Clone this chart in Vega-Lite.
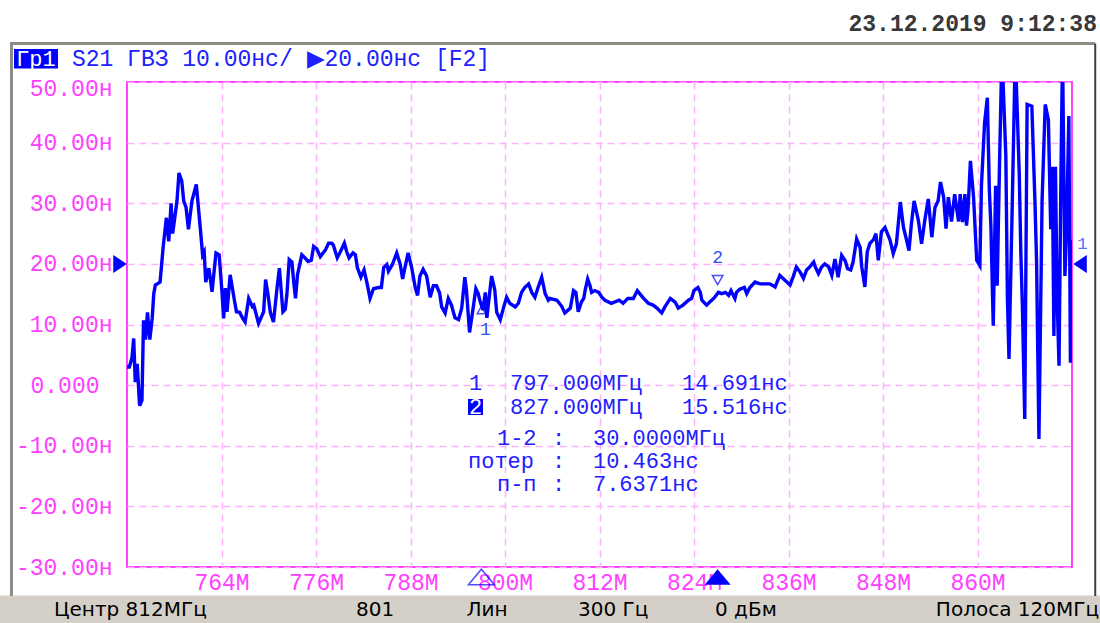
{
  "$schema": "https://vega.github.io/schema/vega-lite/v6.json",
  "width": 945,
  "height": 485,
  "autosize": {"type": "none"},
  "padding": {"left": 127, "top": 82, "right": 28, "bottom": 56},
  "background": "white",
  "config": {
    "view": {"stroke": "#ff40ff", "strokeWidth": 2},
    "font": "Liberation Mono"
  },
  "datasets": {
    "trace": [
      {"f":752.0,"v":3.0},{"f":752.3,"v":3.0},{"f":752.63,"v":4.5},{"f":752.85,"v":7.7},{"f":753.05,"v":0.5},{"f":753.3,"v":3.5},{"f":753.6,"v":-3.4},{"f":753.9,"v":-2.5},{"f":754.1,"v":10.7},{"f":754.35,"v":7.5},{"f":754.6,"v":12},{"f":754.9,"v":7.5},{"f":755.2,"v":11},{"f":755.4,"v":15.1},{"f":755.6,"v":16.5},{"f":756.2,"v":17},{"f":756.6,"v":22.9},{"f":757.0,"v":27.6},{"f":757.3,"v":23.7},{"f":757.6,"v":30},{"f":757.8,"v":25},{"f":758.35,"v":30.4},{"f":758.6,"v":35},{"f":758.95,"v":33.7},{"f":759.2,"v":30.4},{"f":759.5,"v":29.3},{"f":759.8,"v":25.7},{"f":760.25,"v":30.4},{"f":760.8,"v":33.1},{"f":761.3,"v":26},{"f":761.6,"v":21.5},{"f":761.8,"v":22},{"f":762.0,"v":17},{"f":762.4,"v":19.3},{"f":762.8,"v":15.4},{"f":763.3,"v":21.8},{"f":763.7,"v":21.5},{"f":764.06,"v":15.4},{"f":764.27,"v":11},{"f":764.5,"v":16},{"f":764.7,"v":12.1},{"f":765.1,"v":18.2},{"f":765.6,"v":14.3},{"f":765.9,"v":12.1},{"f":766.3,"v":12},{"f":766.7,"v":11},{"f":767.0,"v":10.4},{"f":767.45,"v":14.3},{"f":767.9,"v":13},{"f":768.1,"v":13.2},{"f":768.7,"v":10.2},{"f":769.35,"v":12.1},{"f":769.6,"v":17.4},{"f":769.9,"v":15},{"f":770.2,"v":12},{"f":770.6,"v":10.4},{"f":771.05,"v":16},{"f":771.35,"v":19.3},{"f":771.8,"v":12.1},{"f":772.1,"v":12.5},{"f":772.3,"v":14.9},{"f":772.6,"v":20.7},{"f":772.95,"v":20.3},{"f":773.16,"v":17.1},{"f":773.4,"v":14.3},{"f":773.65,"v":18.2},{"f":774.2,"v":21.5},{"f":774.6,"v":21},{"f":775.0,"v":20.4},{"f":775.4,"v":20.6},{"f":775.7,"v":22.9},{"f":776.1,"v":22.5},{"f":776.55,"v":21.2},{"f":777.2,"v":22.3},{"f":777.6,"v":23.4},{"f":778.0,"v":23.4},
      {"f":778.2,"v":23.1},{"f":778.7,"v":21},{"f":779.1,"v":22},{"f":779.6,"v":23.4},{"f":779.9,"v":22},{"f":780.2,"v":21},{"f":780.7,"v":21.8},{"f":781.0,"v":21.5},{"f":781.25,"v":19.4},{"f":781.7,"v":17.8},{"f":782.1,"v":19},{"f":782.5,"v":16.7},{"f":782.86,"v":14.3},{"f":783.3,"v":15.9},{"f":783.9,"v":16.1},{"f":784.3,"v":16.1},{"f":784.6,"v":19.4},{"f":785.0,"v":19.9},{"f":785.2,"v":18.8},{"f":785.7,"v":19.9},{"f":786.25,"v":21.8},{"f":786.7,"v":19.9},{"f":787.0,"v":17.5},{"f":787.3,"v":19.4},{"f":787.7,"v":21.8},{"f":788.15,"v":19.4},{"f":788.6,"v":16.1},{"f":788.9,"v":14.8},{"f":789.2,"v":18},{"f":789.6,"v":19.1},{"f":790.05,"v":18},{"f":790.5,"v":14.5},{"f":790.9,"v":16.4},{"f":791.3,"v":16.4},{"f":791.7,"v":15.2},{"f":791.96,"v":12.9},{"f":792.4,"v":11.9},{"f":792.8,"v":14.3},{"f":793.2,"v":13.2},{"f":793.65,"v":11.1},{"f":794.1,"v":10.8},{"f":794.5,"v":12.7},{"f":794.9,"v":17.8},{"f":795.1,"v":15.7},{"f":795.5,"v":8.7},{"f":795.8,"v":11.3},{"f":796.3,"v":15.9},{"f":796.6,"v":15.1},{"f":796.8,"v":14},{"f":797.2,"v":12.4},{"f":797.5,"v":15.3},{"f":797.7,"v":11.1},{"f":797.9,"v":13.5},{"f":798.3,"v":18.0},{"f":798.7,"v":15.7},{"f":798.95,"v":12},{"f":799.4,"v":10.8},{"f":799.8,"v":12.7},{"f":800.2,"v":14.5},{"f":800.6,"v":13.5},{"f":801.3,"v":12.9},{"f":801.7,"v":13.5},{"f":802.1,"v":15.3},{"f":802.5,"v":16.1},{"f":803.0,"v":16.7},{"f":803.4,"v":15.3},{"f":803.8,"v":14.5},{"f":804.2,"v":16.1},{"f":804.66,"v":17.8},{"f":805.1,"v":15.1},{"f":805.5,"v":14.0},
      {"f":805.7,"v":14.3},{"f":806.6,"v":14},{"f":807.2,"v":13},{"f":807.6,"v":11.9},{"f":808.3,"v":12.7},{"f":808.7,"v":15.6},{"f":809.0,"v":15.3},{"f":809.3,"v":12.1},{"f":809.7,"v":13.7},{"f":810.0,"v":14.3},{"f":810.2,"v":15.8},{"f":810.5,"v":17.5},{"f":810.8,"v":16.4},{"f":811.0,"v":15.3},{"f":811.4,"v":15.6},{"f":811.9,"v":15.3},{"f":812.3,"v":14.5},{"f":812.7,"v":14},{"f":813.5,"v":13.5},{"f":814.5,"v":14},{"f":815.0,"v":13.5},{"f":815.6,"v":14.3},{"f":816.3,"v":14.3},{"f":816.8,"v":15.6},{"f":817.1,"v":15.1},{"f":817.6,"v":14.3},{"f":818.2,"v":13.5},{"f":818.8,"v":13.2},{"f":819.3,"v":12.7},{"f":819.9,"v":11.9},{"f":820.3,"v":12.9},{"f":821.0,"v":14.3},{"f":821.6,"v":13.7},{"f":822.0,"v":12.7},{"f":822.6,"v":13.2},{"f":823.3,"v":14},{"f":823.7,"v":14.3},{"f":824.0,"v":15.6},{"f":824.5,"v":16.1},{"f":824.8,"v":15.3},{"f":825.0,"v":14},{"f":825.6,"v":13.2},{"f":826.0,"v":13.7},{"f":826.5,"v":14.3},{"f":827.1,"v":15.3},{"f":827.5,"v":15.1},{"f":828.0,"v":15.3},{"f":828.4,"v":14.8},{"f":828.7,"v":15.6},{"f":829.0,"v":14.8},{"f":829.2,"v":14.3},{"f":829.4,"v":15.3},{"f":829.8,"v":15.8},{"f":830.4,"v":16.1},{"f":830.7,"v":15.1},{"f":831.1,"v":16.1},{"f":831.75,"v":17},
      {"f":832.4,"v":16.7},{"f":833.0,"v":16.7},{"f":833.65,"v":16.7},{"f":834.3,"v":16.2},{"f":834.9,"v":18.1},{"f":835.55,"v":17.3},{"f":836.2,"v":16.5},{"f":836.6,"v":17.9},{"f":837.0,"v":19.5},{"f":837.5,"v":18.6},{"f":837.9,"v":17.6},{"f":838.3,"v":19},{"f":838.7,"v":19.5},{"f":839.2,"v":20.3},{"f":839.4,"v":19.5},{"f":839.8,"v":18.4},{"f":840.2,"v":19.5},{"f":840.6,"v":20},{"f":841.1,"v":19.5},{"f":841.5,"v":18.1},{"f":841.9,"v":20.8},{"f":842.3,"v":17.8},{"f":842.75,"v":21.4},{"f":843.2,"v":20.5},{"f":843.5,"v":19.2},{"f":843.9,"v":19},{"f":844.2,"v":20.3},{"f":844.65,"v":24.1},{"f":845.1,"v":22.7},{"f":845.3,"v":19.5},{"f":845.7,"v":16.2},{"f":846.0,"v":22},{"f":846.35,"v":23.4},{"f":846.8,"v":24},{"f":847.1,"v":25},{"f":847.4,"v":20.6},{"f":847.8,"v":25.3},{"f":848.25,"v":26},{"f":848.9,"v":23.9},{"f":849.3,"v":21.7},{"f":849.7,"v":23.3},{"f":850.2,"v":30.2},{"f":850.6,"v":26},{"f":851.0,"v":23.9},{"f":851.3,"v":22.2},{"f":851.6,"v":26.5},{"f":851.95,"v":30.4},{"f":852.5,"v":27.1},{"f":852.9,"v":23.3},{"f":853.3,"v":27.1},{"f":853.75,"v":30.7},{"f":854.2,"v":24.4},{"f":854.6,"v":29.3},{"f":855.0,"v":30.4},{"f":855.3,"v":33.5},{"f":855.7,"v":31},{"f":856.0,"v":25.8},{"f":856.3,"v":31},{"f":856.7,"v":27},{"f":857.1,"v":31.5},{"f":857.6,"v":27},{"f":857.8,"v":31.5},{"f":858.1,"v":26.9},{"f":858.4,"v":31.5},{"f":858.6,"v":26.3},{"f":858.8,"v":28.9},{"f":859.1,"v":37},{"f":859.5,"v":31},{"f":859.9,"v":20.6},
      {"f":860.3,"v":19.7},{"f":860.5,"v":32.9},{"f":860.9,"v":43.3},{"f":861.25,"v":47.4},{"f":861.5,"v":32.3},{"f":861.7,"v":26.3},{"f":862.0,"v":9.8},{"f":862.3,"v":32.9},{"f":862.5,"v":16.4},{"f":862.8,"v":36.7},{"f":863.1,"v":55},{"f":863.6,"v":37.8},{"f":863.8,"v":14.2},{"f":864.0,"v":4.3},{"f":864.4,"v":29},{"f":864.8,"v":55},{"f":865.3,"v":35},{"f":865.5,"v":21.9},{"f":865.7,"v":13.1},{"f":866.0,"v":-5.6},{"f":866.3,"v":46.3},{"f":866.9,"v":46},{"f":867.3,"v":30.1},{"f":867.5,"v":20.5},{"f":867.8,"v":-8.9},{"f":868.2,"v":30.4},{"f":868.6,"v":46.3},{"f":869.0,"v":43.8},{"f":869.3,"v":25.7},{"f":869.5,"v":36},{"f":869.7,"v":8.1},{"f":869.9,"v":36},{"f":870.1,"v":15},{"f":870.35,"v":3.2},{"f":870.6,"v":35},{"f":870.8,"v":55},{"f":871.1,"v":18},{"f":871.3,"v":25},{"f":871.6,"v":44.4},{"f":871.8,"v":3.7},{"f":872.0,"v":24}
    ]
  },
  "encoding": {
    "x": {
      "field": "f", "type": "quantitative",
      "scale": {"domain": [752, 872], "nice": false, "zero": false},
      "axis": {
        "title": null, "values": [764, 776, 788, 800, 812, 824, 836, 848, 860],
        "labelExpr": "datum.value + 'M'", "labelColor": "#ff40ff", "labelFont": "Liberation Mono",
        "labelFontSize": 23, "labelBaseline": "top", "labelPadding": 4, "labelAngle": 0,
        "ticks": false, "tickSize": 0, "domain": false,
        "grid": true, "gridColor": "#ffb0ff", "gridDash": [7, 5], "gridWidth": 1.5
      }
    },
    "y": {
      "field": "v", "type": "quantitative",
      "scale": {"domain": [-30, 50], "nice": false, "zero": false},
      "axis": {
        "title": null, "values": [-30, -20, -10, 0, 10, 20, 30, 40, 50],
        "labelExpr": "datum.value == 0 ? '0.000' : (datum.value < 0 ? '-' : '') + format(abs(datum.value), '.2f') + 'н'",
        "labelColor": "#ff40ff", "labelFont": "Liberation Mono", "labelFontSize": 23,
        "labelAlign": "right",
        "labelPadding": {"condition": {"test": "datum.value == 0", "value": 28}, "value": 15},
        "labelOffset": {"condition": {"test": "datum.value == 50", "value": 6}, "value": 0},
        "labelBaseline": "middle",
        "ticks": false, "tickSize": 0, "domain": false,
        "grid": true, "gridColor": "#ffb0ff", "gridDash": [7, 5], "gridWidth": 1.5
      }
    }
  },
  "layer": [
    {
      "data": {"values": [{"f": 735.8, "f2": 875.6, "v": -34.7, "v2": -39.4}]},
      "mark": {"type": "rect", "color": "#d4d0c8"},
      "encoding": {"x2": {"field": "f2"}, "y2": {"field": "v2"}}
    },
    {
      "data": {"values": [
        {"f": 737.14, "f2": 874.9, "v": 56.35, "v2": 56.35},
        {"f": 737.33, "f2": 737.33, "v": 56.35, "v2": -34.8}
      ]},
      "mark": {"type": "rule", "color": "#8c8c84", "strokeWidth": 3},
      "encoding": {"x2": {"field": "f2"}, "y2": {"field": "v2"}}
    },
    {
      "data": {"values": [{"f": 874.95, "f2": 874.95, "v": 56.35, "v2": -34.8}]},
      "mark": {"type": "rule", "color": "#404040", "strokeWidth": 2},
      "encoding": {"x2": {"field": "f2"}, "y2": {"field": "v2"}}
    },
    {
      "data": {"name": "trace"},
      "mark": {"type": "line", "color": "#0000ff", "strokeWidth": 3.4, "clip": true}
    },
    {
      "data": {"values": [{"f": 797, "v": 14.691}]},
      "mark": {"type": "point", "shape": "triangle-up", "filled": false, "color": "#0000ff", "size": 70, "strokeWidth": 1.5, "yOffset": 14}
    },
    {
      "data": {"values": [{"f": 827, "v": 15.516}]},
      "mark": {"type": "point", "shape": "triangle-down", "filled": false, "color": "#0000ff", "size": 110, "strokeWidth": 1.5, "yOffset": -11}
    },
    {
      "data": {"values": [{"f": 797, "v": 14.691, "t": "1"}]},
      "mark": {"type": "text", "color": "#3050ff", "font": "Liberation Mono", "fontSize": 18, "dy": 34, "dx": 4},
      "encoding": {"text": {"field": "t"}}
    },
    {
      "data": {"values": [{"f": 827, "v": 15.516, "t": "2"}]},
      "mark": {"type": "text", "color": "#3050ff", "font": "Liberation Mono", "fontSize": 18, "dy": -33},
      "encoding": {"text": {"field": "t"}}
    },
    {
      "data": {"values": [{"f": 797, "v": -31.65}]},
      "mark": {"type": "point", "shape": "M0,-0.6L1,0.6L-1,0.6Z", "filled": false, "color": "#0000ff", "size": 676, "strokeWidth": 1.5}
    },
    {
      "data": {"values": [{"f": 827, "v": -31.65}]},
      "mark": {"type": "point", "shape": "M0,-0.6L1,0.6L-1,0.6Z", "filled": true, "color": "#0000ff", "size": 676, "opacity": 1}
    },
    {
      "data": {"values": [{"f": 751.11, "v": 20}]},
      "mark": {"type": "point", "shape": "M-0.75,-1L0.75,0L-0.75,1Z", "filled": true, "color": "#0000ff", "size": 324, "opacity": 1}
    },
    {
      "data": {"values": [{"f": 873.02, "v": 20}]},
      "mark": {"type": "point", "shape": "M0.75,-1L-0.75,0L0.75,1Z", "filled": true, "color": "#0000ff", "size": 324, "opacity": 1}
    },
    {
      "data": {"values": [{"f": 873.3, "v": 23.2, "t": "1"}]},
      "mark": {"type": "text", "color": "#5070ff", "font": "Liberation Mono", "fontSize": 17},
      "encoding": {"text": {"field": "t"}}
    },
    {
      "data": {"values": [
        {"f": 737.65, "f2": 743.24, "v": 55.44, "v2": 52.24},
        {"f": 795.30, "f2": 797.21, "v": -2.29, "v2": -4.93}
      ]},
      "mark": {"type": "rect", "color": "#0000ff"},
      "encoding": {"x2": {"field": "f2"}, "y2": {"field": "v2"}}
    },
    {
      "data": {"values": [
        {"f": 740.44, "v": 53.85, "t": "Гр1"},
        {"f": 796.25, "v": -3.61, "t": "2"}
      ]},
      "mark": {"type": "text", "color": "#ffffff", "font": "Liberation Mono", "fontSize": 22, "align": "center", "baseline": "middle"},
      "encoding": {"text": {"field": "t"}}
    },
    {
      "data": {"values": [{"f": 745.0, "v": 53.85, "t": "S21 ГВЗ 10.00нс/ ▶20.00нс [F2]"}]},
      "mark": {"type": "text", "color": "#2020ff", "font": "Liberation Mono", "fontSize": 23, "align": "left", "baseline": "middle"},
      "encoding": {"text": {"field": "t"}}
    },
    {
      "data": {"values": [
        {"f": 795.43, "v": 0.35, "t": "1"},
        {"f": 800.63, "v": 0.35, "t": "797.000МГц"},
        {"f": 822.48, "v": 0.35, "t": "14.691нс"},
        {"f": 800.63, "v": -3.61, "t": "827.000МГц"},
        {"f": 822.48, "v": -3.61, "t": "15.516нс"},
        {"f": 798.98, "v": -8.72, "t": "1-2"},
        {"f": 805.97, "v": -8.72, "t": ":"},
        {"f": 811.17, "v": -8.72, "t": "30.0000МГц"},
        {"f": 795.30, "v": -12.52, "t": "потер"},
        {"f": 805.97, "v": -12.52, "t": ":"},
        {"f": 811.17, "v": -12.52, "t": "10.463нс"},
        {"f": 798.98, "v": -16.31, "t": "п-п"},
        {"f": 805.97, "v": -16.31, "t": ":"},
        {"f": 811.17, "v": -16.31, "t": "7.6371нс"}
      ]},
      "mark": {"type": "text", "color": "#2020ff", "font": "Liberation Mono", "fontSize": 22, "align": "left", "baseline": "middle"},
      "encoding": {"text": {"field": "t"}}
    },
    {
      "data": {"values": [{"f": 875.17, "v": 59.57, "t": "23.12.2019 9:12:38"}]},
      "mark": {"type": "text", "color": "#383838", "font": "Liberation Mono", "fontSize": 23, "fontWeight": "bold", "align": "right", "baseline": "middle"},
      "encoding": {"text": {"field": "t"}}
    },
    {
      "data": {"values": [
        {"f": 742.73, "v": -37.09, "t": "Центр 812МГц"},
        {"f": 781.08, "v": -37.09, "t": "801"},
        {"f": 795.11, "v": -37.09, "t": "Лин"},
        {"f": 809.27, "v": -37.09, "t": "300 Гц"},
        {"f": 826.67, "v": -37.09, "t": "0 дБм"}
      ]},
      "mark": {"type": "text", "color": "#000000", "font": "DejaVu Sans", "fontSize": 20, "align": "left", "baseline": "middle"},
      "encoding": {"text": {"field": "t"}}
    },
    {
      "data": {"values": [{"f": 875.43, "v": -37.09, "t": "Полоса 120МГц"}]},
      "mark": {"type": "text", "color": "#000000", "font": "DejaVu Sans", "fontSize": 20, "align": "right", "baseline": "middle"},
      "encoding": {"text": {"field": "t"}}
    }
  ]
}
